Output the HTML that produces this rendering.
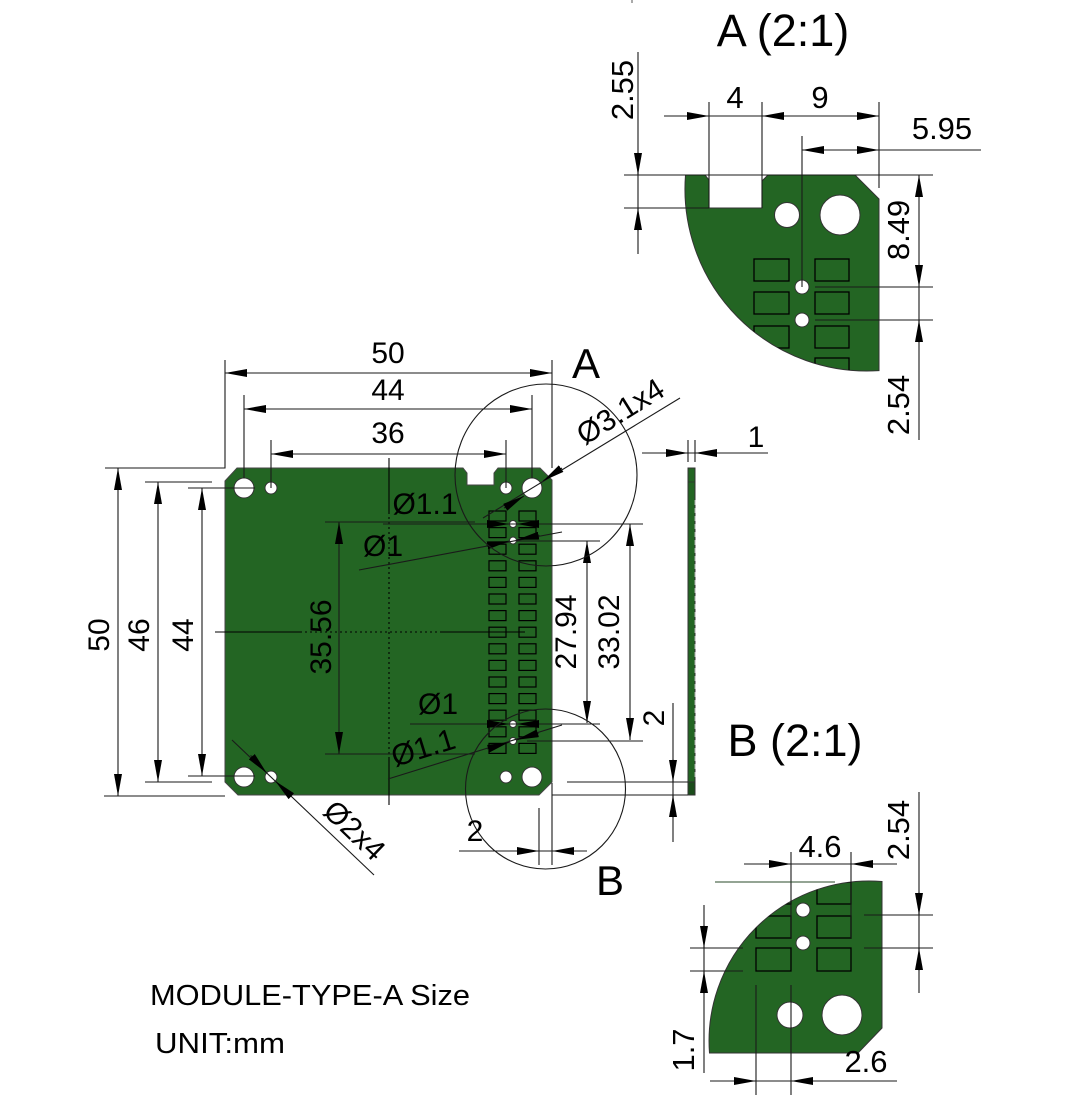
<!DOCTYPE html>
<html><head><meta charset="utf-8"><style>
html,body{margin:0;padding:0;background:#fff;}
svg{display:block;}
text{font-family:"Liberation Sans",Arial,sans-serif;fill:#000;}
</style></head><body>
<svg width="1075" height="1113" viewBox="0 0 1075 1113" xmlns="http://www.w3.org/2000/svg">
<defs>
<marker id="a" viewBox="0 0 22 8" refX="22" refY="4" markerWidth="22" markerHeight="8" markerUnits="userSpaceOnUse" orient="auto-start-reverse"><path d="M0,0L22,4L0,8z" fill="#000" stroke="none"/></marker>
<clipPath id="ca"><path d="M685.5,175 L705,175 L709,180 L709,208 L762,208 L762,181 L768,175 L855,175 L879,199 L879,370.6 A182,182 0 0 1 685.5,175 Z"/></clipPath>
<clipPath id="cb"><path d="M709.5,1053 L858,1053 L882,1028 L882,881.5 A160,160 0 0 0 709.5,1053 Z"/></clipPath>
</defs>
<rect width="1075" height="1113" fill="#fff"/>

<!-- ===== MAIN BOARD ===== -->
<path d="M237,468 L463,468 L467,473 L467,485 L494,485 L494,473 L498,468 L540,468 L552,480 L552,782 L539,795 L238,795 L225,782 L225,481 Z" fill="#236523" stroke="#444" stroke-width="1"/>
<g fill="none" stroke="#000" stroke-width="1.2">
<rect x="489" y="511" width="17" height="10"/><rect x="519" y="511" width="17" height="10"/>
<rect x="489" y="527.6" width="17" height="10"/><rect x="519" y="527.6" width="17" height="10"/>
<rect x="489" y="544.2" width="17" height="10"/><rect x="519" y="544.2" width="17" height="10"/>
<rect x="489" y="560.8" width="17" height="10"/><rect x="519" y="560.8" width="17" height="10"/>
<rect x="489" y="577.4" width="17" height="10"/><rect x="519" y="577.4" width="17" height="10"/>
<rect x="489" y="594" width="17" height="10"/><rect x="519" y="594" width="17" height="10"/>
<rect x="489" y="610.6" width="17" height="10"/><rect x="519" y="610.6" width="17" height="10"/>
<rect x="489" y="627.2" width="17" height="10"/><rect x="519" y="627.2" width="17" height="10"/>
<rect x="489" y="643.8" width="17" height="10"/><rect x="519" y="643.8" width="17" height="10"/>
<rect x="489" y="660.4" width="17" height="10"/><rect x="519" y="660.4" width="17" height="10"/>
<rect x="489" y="677" width="17" height="10"/><rect x="519" y="677" width="17" height="10"/>
<rect x="489" y="693.6" width="17" height="10"/><rect x="519" y="693.6" width="17" height="10"/>
<rect x="489" y="710.2" width="17" height="10"/><rect x="519" y="710.2" width="17" height="10"/>
<rect x="489" y="726.8" width="17" height="10"/><rect x="519" y="726.8" width="17" height="10"/>
<rect x="489" y="743.4" width="17" height="10"/><rect x="519" y="743.4" width="17" height="10"/>
</g>
<g fill="#fff" stroke="#333" stroke-width="1">
<circle cx="244" cy="488" r="10"/><circle cx="271" cy="488" r="6"/>
<circle cx="506" cy="488" r="6"/><circle cx="532" cy="488" r="10"/>
<circle cx="244" cy="777" r="10"/><circle cx="271" cy="777" r="6"/>
<circle cx="506" cy="777" r="6"/><circle cx="532" cy="777" r="10"/>
<circle cx="513" cy="524" r="3.5"/><circle cx="513" cy="540.5" r="3.5"/>
<circle cx="513" cy="724" r="3.5"/><circle cx="513" cy="741" r="3.5"/>
</g>

<!-- centerlines -->
<g stroke="#000" stroke-width="1.1" fill="none">
<path d="M389,458V512 M389,757V805 M215,632H300 M440,632H525"/>
<path d="M389,512V757 M300,632H440" stroke-dasharray="2,3"/>
</g>

<!-- side view -->
<rect x="688" y="468" width="7" height="327" fill="#236523" stroke="#333" stroke-width="1"/>
<rect x="688" y="782" width="7" height="13" fill="#1b4d1b" stroke="#333" stroke-width="1"/>
<path d="M688,482H695 M688,782H695" stroke="#333" stroke-width="0.8"/>
<path d="M695,500V780" stroke="#aaa" stroke-width="1" stroke-dasharray="5,3"/>

<!-- ===== DIMENSION LINES MAIN ===== -->
<g stroke="#1a1a1a" stroke-width="1.1" fill="none">
<!-- top dims -->
<line x1="225" y1="373" x2="552" y2="373" marker-start="url(#a)" marker-end="url(#a)"/>
<path d="M225,360V468H105 M552,360V468"/>
<line x1="244" y1="409" x2="532" y2="409" marker-start="url(#a)" marker-end="url(#a)"/>
<path d="M244,395V478 M532,395V478"/>
<line x1="271" y1="454" x2="506" y2="454" marker-start="url(#a)" marker-end="url(#a)"/>
<path d="M271,440V488 M506,440V488"/>
<!-- left dims -->
<line x1="118" y1="468" x2="118" y2="796" marker-start="url(#a)" marker-end="url(#a)"/>
<path d="M104,796H225"/>
<line x1="158" y1="482" x2="158" y2="782" marker-start="url(#a)" marker-end="url(#a)"/>
<path d="M145,482H212 M145,782H212"/>
<line x1="202" y1="488" x2="202" y2="776" marker-start="url(#a)" marker-end="url(#a)"/>
<path d="M188,488H255 M188,776H255"/>
<!-- 35.56 -->
<line x1="339" y1="522" x2="339" y2="754" marker-start="url(#a)" marker-end="url(#a)"/>
<path d="M325,522H475 M325,754H475"/>
<!-- Ø1.1 top -->
<path d="M383,524H643"/>
<path d="M486,524H509" marker-end="url(#a)"/>
<path d="M540,524H517" marker-end="url(#a)"/>
<!-- Ø1 top slanted -->
<path d="M359,570L562,532"/>
<path d="M486.4,545.5L509,541.2" marker-end="url(#a)"/>
<path d="M539.6,535.5L517,539.8" marker-end="url(#a)"/>
<!-- 27.94 -->
<line x1="587" y1="541" x2="587" y2="723" marker-start="url(#a)" marker-end="url(#a)"/>
<path d="M517,541H600"/>
<!-- 33.02 -->
<line x1="630" y1="524" x2="630" y2="740" marker-start="url(#a)" marker-end="url(#a)"/>
<path d="M527,741H643"/>
<!-- Ø1 bottom -->
<path d="M410,724H600"/>
<path d="M486,724H509" marker-end="url(#a)"/>
<path d="M540,724H517" marker-end="url(#a)"/>
<!-- Ø1.1 bottom slanted -->
<path d="M388,779L562,725"/>
<path d="M487.2,749L509.2,742.2" marker-end="url(#a)"/>
<path d="M538.8,733L516.8,739.8" marker-end="url(#a)"/>
<!-- Ø3.1x4 -->
<path d="M680,398L483,518"/>
<path d="M562,468L543,481" marker-end="url(#a)"/>
<path d="M504,508L524,496" marker-end="url(#a)"/>
<!-- Ø2x4 -->
<path d="M232,740L374,875"/>
<path d="M250.6,755.4L266.6,772.9" marker-end="url(#a)"/>
<path d="M291.4,796.3L275.4,781.1" marker-end="url(#a)"/>
<!-- circles A / B -->
<circle cx="546" cy="475" r="91"/>
<circle cx="545.5" cy="789" r="80"/>
<!-- 2 bottom -->
<path d="M459,851H587 M539,808V865 M552,783V865"/>
<path d="M516,851H539" marker-end="url(#a)"/>
<path d="M575,851H552" marker-end="url(#a)"/>
<!-- 1 side -->
<path d="M642,453H768 M688,440V462 M695,440V462"/>
<path d="M665,453H688" marker-end="url(#a)"/>
<path d="M718,453H695" marker-end="url(#a)"/>
<!-- 2 right -->
<path d="M673,703V842 M567,782H688 M552,795H688"/>
<path d="M673,759V782" marker-end="url(#a)"/>
<path d="M673,818V795" marker-end="url(#a)"/>
</g>

<!-- main texts -->
<g font-size="30" text-anchor="middle">
<text x="388" y="363">50</text>
<text x="388" y="400">44</text>
<text x="388" y="443">36</text>
<text transform="translate(98,635) rotate(-90)" dy="0.36em">50</text>
<text transform="translate(138,635) rotate(-90)" dy="0.36em">46</text>
<text transform="translate(182,635) rotate(-90)" dy="0.36em">44</text>
<text transform="translate(320,637) rotate(-90)" dy="0.36em">35.56</text>
<text transform="translate(565,632) rotate(-90)" dy="0.36em">27.94</text>
<text transform="translate(608,632) rotate(-90)" dy="0.36em">33.02</text>
<text transform="translate(653,718) rotate(-90)" dy="0.36em">2</text>
<text x="425" y="514">Ø1.1</text>
<text x="383" y="556">Ø1</text>
<text x="438" y="714">Ø1</text>
<text transform="translate(423,747) rotate(-17.2)" dy="0.36em">Ø1.1</text>
<text transform="translate(620,411) rotate(-32)" dy="0.36em">Ø3.1x4</text>
<text transform="translate(355,830) rotate(43.6)" dy="0.36em">Ø2x4</text>
<text x="475" y="841">2</text>
<text x="756" y="447">1</text>
</g>
<g font-size="42" text-anchor="middle">
<text x="586" y="378">A</text>
<text x="610" y="895">B</text>
</g>

<!-- ===== DETAIL A ===== -->
<path d="M685.5,175 L705,175 L709,180 L709,208 L762,208 L762,181 L768,175 L855,175 L879,199 L879,370.6 A182,182 0 0 1 685.5,175 Z" fill="#236523" stroke="#333" stroke-width="1"/>
<g clip-path="url(#ca)" fill="none" stroke="#000" stroke-width="1.3">
<rect x="754" y="259" width="35" height="22"/><rect x="815" y="259" width="34" height="22"/>
<rect x="754" y="292" width="35" height="22"/><rect x="815" y="292" width="34" height="22"/>
<rect x="754" y="326" width="35" height="22"/><rect x="815" y="326" width="34" height="22"/>
<rect x="754" y="358" width="35" height="22"/><rect x="815" y="358" width="34" height="22"/>
</g>
<g fill="#fff" stroke="#333" stroke-width="1">
<circle cx="787" cy="215" r="12.5"/><circle cx="840" cy="215" r="20"/>
<circle cx="802" cy="287" r="7"/><circle cx="802" cy="320" r="7"/>
</g>
<g stroke="#1a1a1a" stroke-width="1.1" fill="none">
<path d="M638,52V254 M624,175H933 M624,208H709"/>
<path d="M638,152V175" marker-end="url(#a)"/>
<path d="M638,231V208" marker-end="url(#a)"/>
<path d="M664,116H879 M709,102V208 M762,102V208 M879,102V188"/>
<path d="M687,116H709" marker-end="url(#a)"/>
<path d="M785,116H762" marker-end="url(#a)"/>
<path d="M857,116H879" marker-end="url(#a)"/>
<path d="M802,150H981 M802,136V287"/>
<path d="M825,150H802" marker-end="url(#a)"/>
<path d="M857,150H879" marker-end="url(#a)"/>
<line x1="919" y1="175" x2="919" y2="287" marker-start="url(#a)" marker-end="url(#a)"/>
<path d="M815,287H933 M815,320H933 M919,287V440"/>
<path d="M919,343V320" marker-end="url(#a)"/>
</g>
<g font-size="31" text-anchor="middle">
<text x="735" y="108">4</text>
<text x="820" y="108">9</text>
<text x="942" y="139">5.95</text>
<text transform="translate(622,90) rotate(-90)" dy="0.36em">2.55</text>
<text transform="translate(898,230) rotate(-90)" dy="0.36em">8.49</text>
<text transform="translate(898,405) rotate(-90)" dy="0.36em">2.54</text>
</g>
<text x="783" y="46" font-size="45" text-anchor="middle">A (2:1)</text>
<path d="M632,0V3" stroke="#555" stroke-width="1"/>

<!-- ===== DETAIL B ===== -->
<path d="M709.5,1053 L858,1053 L882,1028 L882,881.5 A160,160 0 0 0 709.5,1053 Z" fill="#236523" stroke="#333" stroke-width="1"/>
<g clip-path="url(#cb)" fill="none" stroke="#000" stroke-width="1.3">
<rect x="756" y="882" width="35" height="22"/><rect x="817" y="882" width="34" height="22"/>
<rect x="756" y="916" width="35" height="22"/><rect x="817" y="916" width="34" height="22"/>
<rect x="756" y="948" width="35" height="23"/><rect x="817" y="948" width="34" height="23"/>
</g>
<g fill="#fff" stroke="#333" stroke-width="1">
<circle cx="790" cy="1015" r="13"/><circle cx="842" cy="1015" r="20"/>
<circle cx="803" cy="910" r="7"/><circle cx="803" cy="943" r="7"/>
</g>
<g stroke="#1a1a1a" stroke-width="1.1" fill="none">
<path d="M744,864H897 M791,852V938 M851,852V938"/>
<path d="M768,864H791" marker-end="url(#a)"/>
<path d="M874,864H851" marker-end="url(#a)"/>
<path d="M715,882H835" stroke="#2a4a2a"/>
<path d="M919,792V993 M864,915H933 M864,948H933"/>
<path d="M919,892V915" marker-end="url(#a)"/>
<path d="M919,971V948" marker-end="url(#a)"/>
<path d="M704,905V1073 M690,948H743 M690,971H743"/>
<path d="M704,925V948" marker-end="url(#a)"/>
<path d="M704,994V971" marker-end="url(#a)"/>
<path d="M710,1081H897 M756,985V1095 M791,985V1095"/>
<path d="M733,1081H756" marker-end="url(#a)"/>
<path d="M814,1081H791" marker-end="url(#a)"/>
</g>
<g font-size="31" text-anchor="middle">
<text x="820" y="857">4.6</text>
<text x="866" y="1072">2.6</text>
<text transform="translate(898,830) rotate(-90)" dy="0.36em">2.54</text>
<text transform="translate(683,1050) rotate(-90)" dy="0.36em">1.7</text>
</g>
<text x="795" y="756" font-size="45" text-anchor="middle">B (2:1)</text>

<!-- bottom notes -->
<text x="150" y="1005" font-size="29" textLength="320" lengthAdjust="spacingAndGlyphs">MODULE-TYPE-A Size</text>
<text x="155" y="1053" font-size="29" textLength="130" lengthAdjust="spacingAndGlyphs">UNIT:mm</text>
</svg>
</body></html>
